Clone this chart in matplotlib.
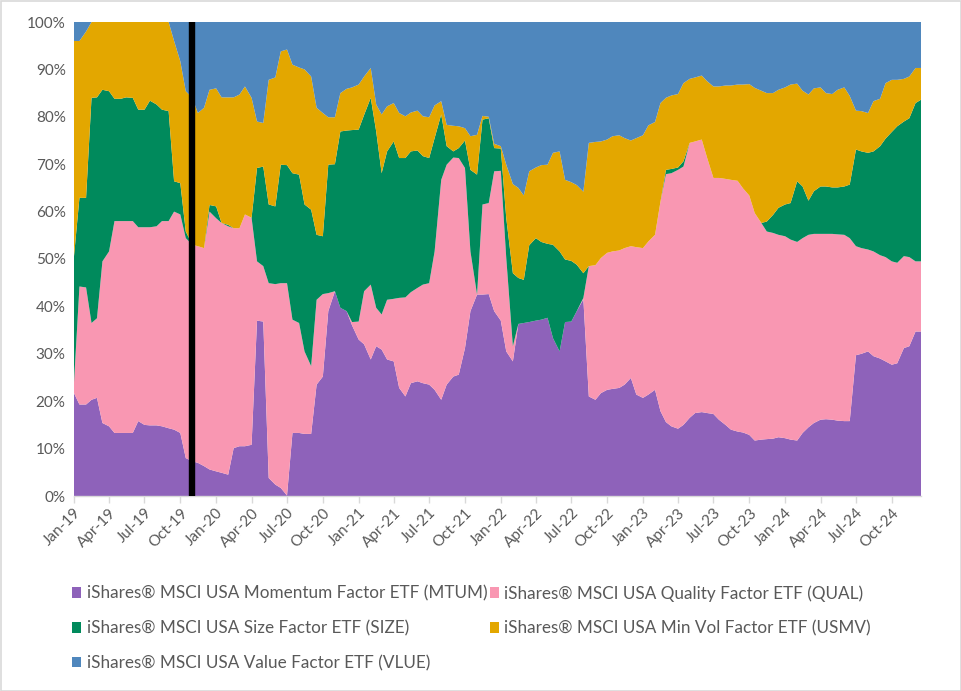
import numpy as np
import pandas as pd
import matplotlib
matplotlib.use("Agg")
import matplotlib.pyplot as plt
import matplotlib.dates as mdates
from matplotlib.patches import Patch, Rectangle
from matplotlib.ticker import MultipleLocator, FuncFormatter

plt.rcParams['font.family'] = ['Lato', 'DejaVu Sans']

# semi-monthly observations, Jan-2019 .. Dec-2024 (144 points)
dates = pd.date_range('2019-01-01', periods=144, freq='SMS')
event_date = pd.Timestamp('2019-11-01')

labels = [
    "iShares® MSCI USA Momentum Factor ETF (MTUM)",
    "iShares® MSCI USA Quality Factor ETF (QUAL)",
    "iShares® MSCI USA Size Factor ETF (SIZE)",
    "iShares® MSCI USA Min Vol Factor ETF (USMV)",
    "iShares® MSCI USA Value Factor ETF (VLUE)",
]
colors = ["#8e62ba", "#f997b2", "#008a5c", "#e3a700", "#4f87bd"]

mtum = [
    21.7, 19.3, 19.3, 20.3, 20.7, 15.4, 14.7, 13.3, 13.3, 13.3, 13.3, 15.8, 15.0, 14.9, 14.9, 14.7, 14.3, 14.0, 13.3, 8.0, 7.3, 7.0, 6.3, 5.6,
    5.2, 4.9, 4.5, 10.1, 10.5, 10.5, 10.8, 37.0, 36.8, 3.8, 2.4, 1.7, 0.1, 13.3, 13.3, 13.1, 13.1, 23.5, 25.2, 39.0, 43.2, 39.7, 39.0, 36.0,
    33.0, 32.0, 28.8, 31.6, 30.9, 28.8, 28.4, 22.8, 21.0, 23.8, 24.2, 23.8, 23.5, 22.4, 20.3, 23.5, 25.2, 25.6, 31.2, 39.0, 42.5, 42.5, 42.6, 39.0,
    37.0, 30.5, 28.4, 36.3, 36.5, 36.7, 37.0, 37.2, 37.6, 33.3, 30.5, 36.7, 36.8, 39.0, 41.5, 21.0, 20.3, 21.7, 22.4, 22.6, 22.8, 23.5, 24.9, 21.4,
    20.7, 21.4, 22.4, 17.9, 15.6, 14.7, 14.2, 15.0, 16.5, 17.5, 17.7, 17.5, 17.3, 16.1, 15.0, 14.0, 13.6, 13.4, 12.9, 11.7, 11.9, 12.0, 12.1, 12.4,
    12.2, 11.9, 11.7, 13.3, 14.5, 15.4, 16.1, 16.2, 16.1, 15.9, 15.8, 15.8, 29.7, 30.0, 30.5, 29.5, 29.0, 28.4, 27.7, 28.0, 31.2, 31.6, 34.7, 34.7,
]
qual = [
    2.3, 24.9, 24.7, 16.2, 16.8, 34.1, 36.9, 44.7, 44.7, 44.7, 44.7, 40.9, 41.7, 41.8, 42.0, 43.3, 43.7, 46.0, 46.1, 46.4, 45.7, 45.7, 46.0, 54.4,
    53.4, 52.7, 52.4, 46.4, 46.0, 48.9, 47.9, 12.5, 11.7, 41.1, 42.3, 43.2, 44.8, 23.9, 23.2, 17.4, 14.3, 17.9, 17.4, 3.8, 0.0, 0.0, 0.0, 0.7,
    3.8, 11.2, 15.8, 8.1, 7.4, 12.6, 13.2, 19.0, 20.9, 19.2, 19.7, 20.8, 21.4, 29.2, 46.4, 46.4, 46.2, 45.7, 38.0, 12.6, 0.0, 19.0, 19.2, 29.5,
    31.6, 19.7, 3.2, 0.0, 0.0, 0.0, 0.0, 0.0, 0.0, 0.0, 0.0, 0.0, 0.0, 0.0, 0.3, 27.5, 28.4, 28.5, 28.9, 29.0, 29.0, 28.8, 27.8, 31.1,
    31.6, 32.3, 32.7, 44.2, 52.3, 53.4, 54.6, 54.5, 58.0, 57.3, 57.5, 53.8, 49.8, 51.0, 51.9, 52.7, 52.9, 51.5, 50.5, 48.0, 45.7, 43.8, 43.4, 42.7,
    42.6, 42.2, 41.9, 41.1, 40.6, 39.9, 39.2, 39.1, 39.2, 39.3, 39.3, 38.6, 23.0, 22.3, 21.5, 22.1, 21.8, 22.0, 21.8, 21.2, 19.4, 18.8, 14.8, 14.8,
]
size = [
    26.6, 18.7, 18.9, 47.5, 46.6, 36.2, 33.8, 25.8, 25.8, 26.1, 26.0, 24.8, 24.8, 26.7, 25.7, 23.5, 23.2, 6.4, 6.6, 1.4, 0.0, 0.0, 0.0, 1.4,
    2.5, 0.0, 0.3, 0.0, 0.0, 0.0, 0.0, 19.7, 21.0, 16.6, 16.4, 25.0, 24.9, 30.9, 31.3, 31.0, 33.0, 13.7, 12.2, 27.1, 26.8, 37.2, 38.1, 40.5,
    40.5, 37.2, 39.4, 37.2, 29.8, 31.3, 33.2, 29.5, 29.4, 29.7, 29.0, 27.1, 26.4, 23.9, 13.8, 3.9, 1.3, 2.1, 5.8, 17.2, 25.3, 17.9, 17.9, 4.9,
    4.7, 8.4, 15.4, 9.7, 9.1, 16.2, 17.4, 16.4, 15.6, 19.7, 21.1, 13.2, 12.8, 9.8, 5.2, 0.0, 0.0, 0.0, 0.0, 0.0, 0.0, 0.0, 0.0, 0.0,
    0.0, 0.0, 0.0, 0.0, 0.9, 0.9, 0.5, 1.1, 0.0, 0.0, 0.0, 0.0, 0.0, 0.0, 0.0, 0.0, 0.0, 0.0, 0.0, 0.0, 0.0, 2.1, 3.8, 5.7,
    6.7, 7.7, 12.8, 10.9, 7.2, 9.0, 10.0, 10.0, 9.8, 9.9, 10.2, 11.3, 20.4, 20.4, 20.4, 21.1, 23.0, 25.0, 27.3, 28.8, 28.4, 29.3, 33.4, 34.1,
]
usmv = [
    45.4, 33.1, 35.1, 16.0, 15.9, 14.3, 14.6, 16.2, 16.2, 15.9, 16.0, 18.5, 18.5, 16.6, 17.4, 18.5, 18.8, 29.6, 25.7, 29.6, 31.0, 28.1, 29.6, 24.3,
    24.9, 26.5, 26.9, 27.6, 28.2, 27.0, 25.3, 9.8, 9.2, 26.3, 27.2, 23.9, 24.4, 22.9, 22.6, 28.5, 28.1, 26.8, 26.0, 10.0, 9.9, 8.1, 8.8, 9.0,
    9.5, 8.1, 6.3, 5.7, 12.4, 9.5, 8.1, 9.5, 8.8, 8.2, 8.4, 8.4, 8.6, 6.9, 2.8, 4.5, 5.4, 4.6, 2.6, 7.1, 8.4, 0.8, 0.3, 0.9,
    0.5, 11.3, 18.8, 19.0, 17.8, 15.6, 14.9, 16.2, 16.7, 19.4, 21.1, 16.8, 16.6, 16.8, 17.2, 26.0, 26.0, 24.6, 23.9, 24.3, 24.3, 23.2, 22.3, 23.0,
    23.8, 24.5, 23.8, 20.8, 15.2, 15.5, 15.5, 16.5, 13.5, 13.5, 13.5, 16.2, 19.3, 19.3, 19.7, 19.9, 20.3, 21.9, 23.5, 26.4, 27.9, 27.1, 25.7, 24.9,
    24.7, 25.0, 20.6, 20.2, 22.4, 21.7, 20.9, 19.7, 19.7, 20.6, 20.9, 18.7, 8.2, 8.5, 8.4, 10.6, 10.0, 11.7, 11.0, 9.8, 9.0, 8.8, 7.4, 6.7,
]
vlue = [
    4.0, 4.0, 2.0, 0.0, 0.0, 0.0, 0.0, 0.0, 0.0, 0.0, 0.0, 0.0, 0.0, 0.0, 0.0, 0.0, 0.0, 4.0, 8.3, 14.6, 16.0, 19.2, 18.1, 14.3,
    14.0, 15.9, 15.9, 15.9, 15.3, 13.6, 16.0, 21.0, 21.3, 12.2, 11.7, 6.2, 5.8, 9.0, 9.6, 10.0, 11.5, 18.1, 19.2, 20.1, 20.1, 15.0, 14.1, 13.8,
    13.2, 11.5, 9.7, 17.4, 19.5, 17.8, 17.1, 19.2, 19.9, 19.1, 18.7, 19.9, 20.1, 17.6, 16.7, 21.7, 21.9, 22.0, 22.4, 24.1, 23.8, 19.8, 20.0, 25.7,
    26.2, 30.1, 34.2, 35.0, 36.6, 31.5, 30.7, 30.2, 30.1, 27.6, 27.3, 33.3, 33.8, 34.4, 35.8, 25.5, 25.3, 25.2, 24.8, 24.1, 23.9, 24.5, 25.0, 24.5,
    23.9, 21.8, 21.1, 17.1, 16.0, 15.5, 15.2, 12.9, 12.0, 11.7, 11.3, 12.5, 13.6, 13.6, 13.4, 13.4, 13.2, 13.2, 13.1, 13.9, 14.5, 15.0, 15.0, 14.3,
    13.8, 13.2, 13.0, 14.5, 15.3, 14.0, 13.8, 15.0, 15.2, 14.3, 13.8, 15.6, 18.7, 18.8, 19.2, 16.7, 16.2, 12.9, 12.2, 12.2, 12.0, 11.5, 9.7, 9.7,
]

series = np.array([mtum, qual, size, usmv, vlue], dtype=float)
shares = series / series.sum(axis=0) * 100.0

W, H = 962, 691
fig = plt.figure(figsize=(W / 100, H / 100), dpi=100)
ax = fig.add_axes([74 / W, 1 - 496 / H, (921 - 74) / W, (496 - 22) / H])

ax.stackplot(dates, shares, colors=colors, linewidth=0, labels=labels)
ax.axvline(event_date, color="black", lw=4.6, zorder=5)

ax.set_xlim(dates[0], dates[-1])
ax.set_ylim(0, 100)
ax.yaxis.set_major_locator(MultipleLocator(10))
ax.yaxis.set_major_formatter(FuncFormatter(lambda v, p: f"{int(round(v))}%"))
ax.xaxis.set_major_locator(mdates.MonthLocator(bymonth=[1, 4, 7, 10]))
ax.xaxis.set_major_formatter(mdates.DateFormatter("%b-%y"))

for s in ["top", "right", "left"]:
    ax.spines[s].set_visible(False)
ax.spines["bottom"].set_color("#d9d9d9")
ax.spines["bottom"].set_linewidth(1)
ax.tick_params(axis="y", length=0, pad=6, labelsize=11, labelcolor="#595959")
ax.tick_params(axis="x", length=5, width=1, color="#d9d9d9", pad=2,
               labelsize=11, labelcolor="#595959")
for lbl in ax.get_xticklabels():
    lbl.set_rotation(45)
    lbl.set_ha("right")
    lbl.set_va("top")
    lbl.set_rotation_mode("anchor")

handles = [Patch(facecolor=c, edgecolor="none") for c in colors]
order = [0, 2, 4, 1, 3]
fig.legend([handles[i] for i in order], [labels[i] for i in order],
           loc="upper left", bbox_to_anchor=(72 / W, 1 - 585 / H),
           ncol=2, frameon=False, fontsize=12.3, labelcolor="#595959",
           handlelength=0.55, handleheight=0.55, handletextpad=0.3,
           columnspacing=0.15, labelspacing=1.1, borderpad=0, borderaxespad=0)

fig.add_artist(Rectangle((0.5 / W, 0.5 / H), 1 - 1.5 / W, 1 - 1.5 / H,
                         transform=fig.transFigure, fill=False,
                         edgecolor="#d9d9d9", lw=1.2))

fig.savefig("out.png", dpi=100, facecolor="white")
